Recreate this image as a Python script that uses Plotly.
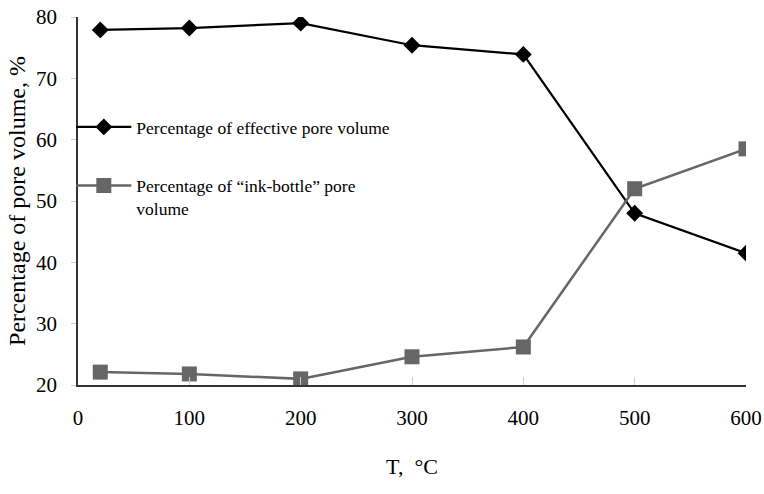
import plotly.graph_objects as go

temps = [20, 100, 200, 300, 400, 500, 600]
effective = [77.9, 78.2, 79.0, 75.4, 73.9, 48.0, 41.5]
ink_bottle = [22.1, 21.8, 21.0, 24.6, 26.2, 52.0, 58.5]

name_eff = "Percentage of effective pore volume"
name_ink = "Percentage of “ink-bottle” pore<br>volume"

FONT = "Liberation Serif, Times New Roman, serif"

fig = go.Figure()
fig.add_trace(go.Scatter(
    x=temps, y=effective, mode="lines+markers", name=name_eff,
    line=dict(color="#000000", width=2.2),
    marker=dict(symbol="diamond", size=13, color="#000000"),
    legend="legend",
))
fig.add_trace(go.Scatter(
    x=temps, y=ink_bottle, mode="lines+markers", name=name_ink,
    line=dict(color="#666666", width=2.5),
    marker=dict(symbol="square", size=15, color="#666666"),
    legend="legend2",
))

legend_common = dict(
    xref="paper", yref="paper", xanchor="left", yanchor="middle",
    bgcolor="rgba(0,0,0,0)", borderwidth=0,
    font=dict(family=FONT, size=17.5, color="#000000"),
    itemwidth=55, valign="top",
)

fig.update_layout(
    width=764, height=494,
    margin=dict(l=78, r=18, t=17, b=109, autoexpand=False),
    paper_bgcolor="white", plot_bgcolor="white",
    font=dict(family=FONT, size=20, color="#000000"),
    showlegend=True,
    legend=dict(x=-0.01, y=(385 - 127) / 368, **legend_common),
    legend2=dict(x=-0.01, y=(385 - 197) / 368, **legend_common),
    xaxis=dict(
        range=[0, 600], dtick=100, tick0=0,
        showgrid=False, zeroline=False,
        showline=True, linecolor="#333333", linewidth=1.5,
        ticks="inside", ticklen=8, tickcolor="#cccccc", tickwidth=1,
        ticklabelstandoff=13,
        tickfont=dict(family=FONT, size=21),
        title=dict(text="T,  °C", font=dict(family=FONT, size=22), standoff=30),
    ),
    yaxis=dict(
        range=[20, 80], dtick=10, tick0=20,
        showgrid=False, zeroline=False,
        showline=True, linecolor="#333333", linewidth=1.5,
        ticks="outside", ticklen=5, tickcolor="#cccccc", tickwidth=1,
        ticklabelstandoff=10,
        tickfont=dict(family=FONT, size=21),
        title=dict(text="Percentage of pore volume, %", font=dict(family=FONT, size=24), standoff=4),
    ),
)

fig.write_html("out.html")
